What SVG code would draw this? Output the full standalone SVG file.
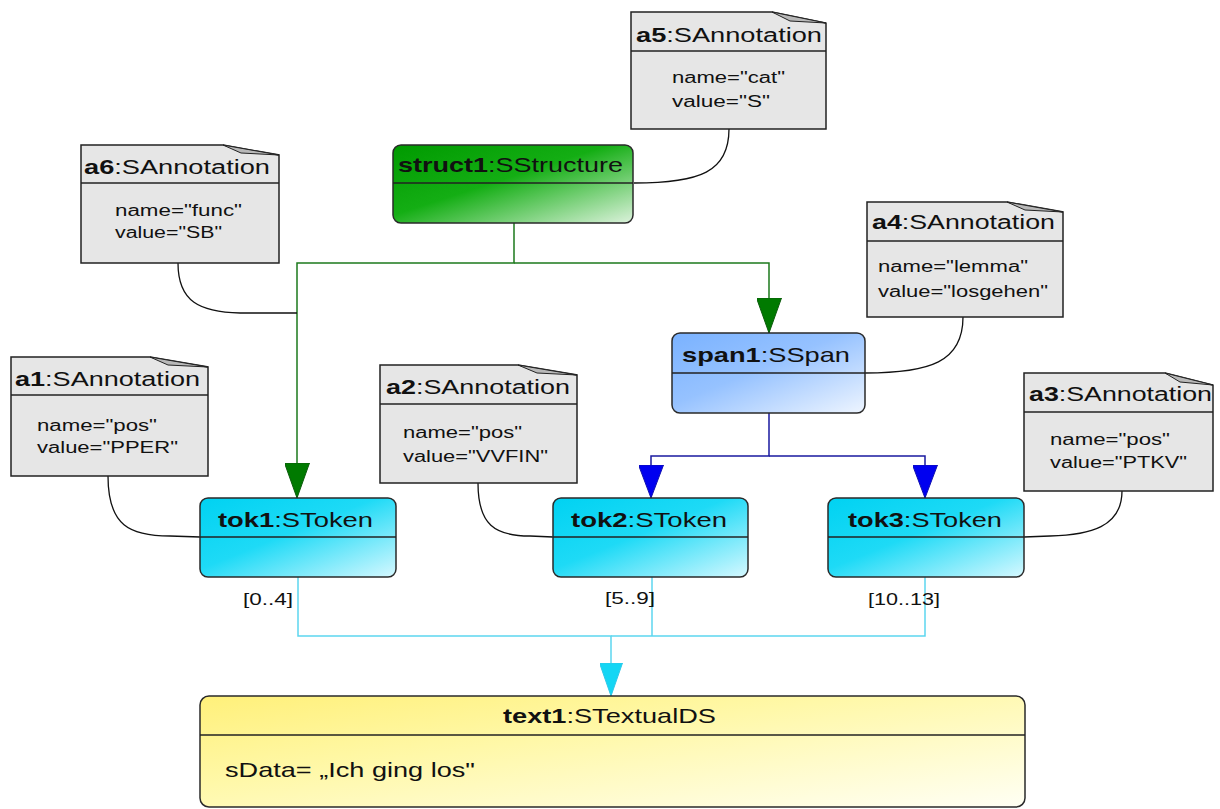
<svg xmlns="http://www.w3.org/2000/svg" width="1220" height="809" viewBox="0 0 1220 809">
<style>
text{font-family:"Liberation Sans",Arial,sans-serif;fill:#111}
.hd{font-size:20px}
.bd{font-size:16px}
.nt{font-size:21px}
.lb{font-size:16px}
.b{font-weight:bold}
.note{fill:#e6e6e6;stroke:#222;stroke-width:1.5}
.sep{stroke:#222;stroke-width:1.5;fill:none}
.fold{fill:#b8b8b8;stroke:#222;stroke-width:1}
.node{stroke:#2a2a2a;stroke-width:1.5}
.ac{fill:none;stroke:#111;stroke-width:1.3}
.g{fill:none;stroke:#1d7a1d;stroke-width:1.5}
.bl{fill:none;stroke:#1a1aa0;stroke-width:1.5}
.cy{fill:none;stroke:#5cd6ef;stroke-width:1.5}
</style>
<defs>
<linearGradient id="gStruct" x1="0" y1="0" x2="1" y2="1">
<stop offset="0" stop-color="#009a00"/><stop offset="0.45" stop-color="#14ae14"/><stop offset="1" stop-color="#dcf2dc"/>
</linearGradient>
<linearGradient id="gSpan" x1="0" y1="0" x2="1" y2="1">
<stop offset="0" stop-color="#7ab2ff"/><stop offset="0.45" stop-color="#96c2ff"/><stop offset="1" stop-color="#eef5ff"/>
</linearGradient>
<linearGradient id="gTok" x1="0" y1="0" x2="1" y2="1">
<stop offset="0" stop-color="#00d2f2"/><stop offset="0.45" stop-color="#1edaf6"/><stop offset="1" stop-color="#d6f8ff"/>
</linearGradient>
<linearGradient id="gText" x1="0" y1="0" x2="1" y2="1">
<stop offset="0" stop-color="#fff07a"/><stop offset="0.4" stop-color="#fff8a8"/><stop offset="1" stop-color="#fffff4"/>
</linearGradient>
<marker id="mG" viewBox="0 0 35 25" refX="35" refY="12.5" markerWidth="35" markerHeight="25" markerUnits="userSpaceOnUse" orient="auto">
<path d="M0,0 L35,12.5 L0,25 Z" fill="#007a00" stroke="#0c5c0c" stroke-width="1"/>
</marker>
<marker id="mB" viewBox="0 0 33 25" refX="33" refY="12.5" markerWidth="33" markerHeight="25" markerUnits="userSpaceOnUse" orient="auto">
<path d="M0,0 L33,12.5 L0,25 Z" fill="#0000f0" stroke="#1010b0" stroke-width="1"/>
</marker>
<marker id="mC" viewBox="0 0 33 23" refX="33" refY="11.5" markerWidth="33" markerHeight="23" markerUnits="userSpaceOnUse" orient="auto">
<path d="M0,0 L33,11.5 L0,23 Z" fill="#14d6f4" stroke="#30c8e8" stroke-width="1"/>
</marker>
</defs>
<rect width="1220" height="809" fill="#fff"/>

<g id="connectors">
<path class="g" d="M514,223 V263 H297 V498" marker-end="url(#mG)"/>
<path class="g" d="M514,263 H769 V333" marker-end="url(#mG)"/>
<path class="bl" d="M769,413 V456 H651 V498" marker-end="url(#mB)"/>
<path class="bl" d="M769,456 H925 V498" marker-end="url(#mB)"/>
<path class="cy" d="M298,577 V636 H611 V696" marker-end="url(#mC)"/>
<path class="cy" d="M652,577 V636"/>
<path class="cy" d="M925,577 V636 H611"/>
<path class="ac" d="M729,129 C729,172 700,183 634,183"/>
<path class="ac" d="M178,263 C178,302 200,312 240,313 L297,313"/>
<path class="ac" d="M963,317 C963,362 930,373 865,373"/>
<path class="ac" d="M108,476 C108,526 130,536 170,536 L200,537"/>
<path class="ac" d="M478,483 C478,525 495,536 530,536 L553,537"/>
<path class="ac" d="M1122,491 C1122,527 1090,535 1050,536 L1024,537"/>
<text class="lb" x="243" y="605" textLength="50" lengthAdjust="spacingAndGlyphs">[0..4]</text>
<text class="lb" x="605" y="604" textLength="50" lengthAdjust="spacingAndGlyphs">[5..9]</text>
<text class="lb" x="868" y="605" textLength="72" lengthAdjust="spacingAndGlyphs">[10..13]</text>
</g>

<g id="a5">
<path class="note" d="M631,12 H772 L826,23 V129 H631 Z"/>
<path class="fold" d="M772,12 L826,23 L790,21 Z"/>
<line class="sep" x1="631" y1="51" x2="826" y2="51"/>
<text class="hd" x="636" y="42" textLength="186" lengthAdjust="spacingAndGlyphs"><tspan class="b">a5</tspan>:SAnnotation</text>
<text class="bd" x="672" y="83" textLength="113" lengthAdjust="spacingAndGlyphs">name="cat"</text>
<text class="bd" x="672" y="107" textLength="98" lengthAdjust="spacingAndGlyphs">value="S"</text>
</g>

<g id="a6">
<path class="note" d="M81,145 H223 L279,155 V263 H81 Z"/>
<path class="fold" d="M223,145 L279,155 L241,153 Z"/>
<line class="sep" x1="81" y1="183" x2="279" y2="183"/>
<text class="hd" x="84" y="174" textLength="186" lengthAdjust="spacingAndGlyphs"><tspan class="b">a6</tspan>:SAnnotation</text>
<text class="bd" x="115" y="216" textLength="127" lengthAdjust="spacingAndGlyphs">name="func"</text>
<text class="bd" x="115" y="238" textLength="107" lengthAdjust="spacingAndGlyphs">value="SB"</text>
</g>

<g id="a4">
<path class="note" d="M867,202 H1007 L1063,212 V317 H867 Z"/>
<path class="fold" d="M1007,202 L1063,212 L1025,210 Z"/>
<line class="sep" x1="867" y1="241" x2="1063" y2="241"/>
<text class="hd" x="872" y="229" textLength="183" lengthAdjust="spacingAndGlyphs"><tspan class="b">a4</tspan>:SAnnotation</text>
<text class="bd" x="878" y="272" textLength="150" lengthAdjust="spacingAndGlyphs">name="lemma"</text>
<text class="bd" x="878" y="297" textLength="170" lengthAdjust="spacingAndGlyphs">value="losgehen"</text>
</g>

<g id="a1">
<path class="note" d="M11,357 H150 L208,367 V476 H11 Z"/>
<path class="fold" d="M150,357 L208,367 L168,365 Z"/>
<line class="sep" x1="11" y1="395" x2="208" y2="395"/>
<text class="hd" x="15" y="386" textLength="185" lengthAdjust="spacingAndGlyphs"><tspan class="b">a1</tspan>:SAnnotation</text>
<text class="bd" x="37" y="431" textLength="120" lengthAdjust="spacingAndGlyphs">name="pos"</text>
<text class="bd" x="37" y="453" textLength="141" lengthAdjust="spacingAndGlyphs">value="PPER"</text>
</g>

<g id="a2">
<path class="note" d="M380,365 H518 L577,375 V483 H380 Z"/>
<path class="fold" d="M518,365 L577,375 L537,373 Z"/>
<line class="sep" x1="380" y1="404" x2="577" y2="404"/>
<text class="hd" x="386" y="394" textLength="184" lengthAdjust="spacingAndGlyphs"><tspan class="b">a2</tspan>:SAnnotation</text>
<text class="bd" x="403" y="438" textLength="119" lengthAdjust="spacingAndGlyphs">name="pos"</text>
<text class="bd" x="403" y="462" textLength="145" lengthAdjust="spacingAndGlyphs">value="VVFIN"</text>
</g>

<g id="a3">
<path class="note" d="M1024,373 H1165 L1213,385 V491 H1024 Z"/>
<path class="fold" d="M1165,373 L1213,385 L1180,382 Z"/>
<line class="sep" x1="1024" y1="412" x2="1213" y2="412"/>
<text class="hd" x="1029" y="401" textLength="183" lengthAdjust="spacingAndGlyphs"><tspan class="b">a3</tspan>:SAnnotation</text>
<text class="bd" x="1050" y="445" textLength="120" lengthAdjust="spacingAndGlyphs">name="pos"</text>
<text class="bd" x="1050" y="468" textLength="137" lengthAdjust="spacingAndGlyphs">value="PTKV"</text>
</g>

<g id="struct1">
<rect class="node" x="393" y="145" width="240" height="78" rx="8" fill="url(#gStruct)"/>
<line class="sep" x1="393" y1="183" x2="633" y2="183"/>
<text class="nt" x="398" y="172" textLength="225" lengthAdjust="spacingAndGlyphs"><tspan class="b">struct1</tspan>:SStructure</text>
</g>

<g id="span1">
<rect class="node" x="672" y="333" width="193" height="80" rx="8" fill="url(#gSpan)"/>
<line class="sep" x1="672" y1="373" x2="865" y2="373"/>
<text class="nt" x="682" y="362" textLength="168" lengthAdjust="spacingAndGlyphs"><tspan class="b">span1</tspan>:SSpan</text>
</g>

<g id="tok1">
<rect class="node" x="200" y="498" width="196" height="79" rx="8" fill="url(#gTok)"/>
<line class="sep" x1="200" y1="537" x2="396" y2="537"/>
<text class="nt" x="218" y="527" textLength="155" lengthAdjust="spacingAndGlyphs"><tspan class="b">tok1</tspan>:SToken</text>
</g>

<g id="tok2">
<rect class="node" x="553" y="498" width="195" height="79" rx="8" fill="url(#gTok)"/>
<line class="sep" x1="553" y1="537" x2="748" y2="537"/>
<text class="nt" x="571" y="527" textLength="156" lengthAdjust="spacingAndGlyphs"><tspan class="b">tok2</tspan>:SToken</text>
</g>

<g id="tok3">
<rect class="node" x="828" y="498" width="196" height="79" rx="8" fill="url(#gTok)"/>
<line class="sep" x1="828" y1="537" x2="1024" y2="537"/>
<text class="nt" x="848" y="527" textLength="154" lengthAdjust="spacingAndGlyphs"><tspan class="b">tok3</tspan>:SToken</text>
</g>

<g id="text1">
<rect class="node" x="200" y="696" width="825" height="111" rx="9" fill="url(#gText)"/>
<line class="sep" x1="200" y1="735" x2="1025" y2="735"/>
<text class="nt" x="503" y="723" textLength="213" lengthAdjust="spacingAndGlyphs"><tspan class="b">text1</tspan>:STextualDS</text>
<text class="nt" x="225" y="777" textLength="250" lengthAdjust="spacingAndGlyphs">sData= „Ich ging los"</text>
</g>
</svg>
